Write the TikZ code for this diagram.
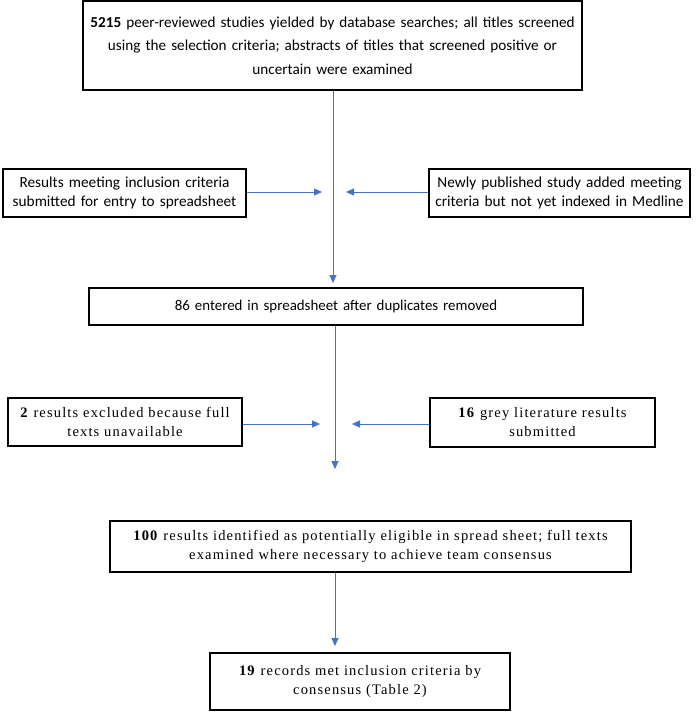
\documentclass[tikz,border=0pt]{standalone}
\usepackage{fontspec}
\setmainfont{Carlito}
\newfontfamily\lowserif[LetterSpace=8]{Liberation Serif}
\usetikzlibrary{arrows.meta}
\definecolor{arrowblue}{HTML}{4472C4}
\begin{document}
\begin{tikzpicture}[x=1pt,y=-1pt,
  box/.style={draw=black,line width=1.1pt,inner sep=0pt,align=center},
  topfont/.style={font=\fontsize{15.2}{23.5}\selectfont},
  sidefont/.style={font=\fontsize{15.3}{19}\selectfont},
  midfont/.style={font=\fontsize{14.9}{19}\selectfont},
  serfont/.style={font=\lowserif\fontsize{14.5}{19}\selectfont},
  flow/.style={draw=arrowblue,line width=0.9pt,-{Triangle[length=8pt,width=7pt]}}]
\useasboundingbox (0,0) rectangle (696,720);
\fill[white] (0,0) rectangle (696,720);

\node[box,topfont,minimum width=499pt,minimum height=89pt,text width=495pt] (top) at (332.5,45.5)
 {\textbf{5215} peer-reviewed studies yielded by database searches; all titles screened\\ using the selection criteria; abstracts of titles that screened positive or\\ uncertain were examined};

\node[box,sidefont,minimum width=243pt,minimum height=48pt,text width=238pt] (l1) at (124.5,193)
 {Results meeting inclusion criteria\\ submitted for entry to spreadsheet};
\node[box,sidefont,minimum width=261pt,minimum height=48pt,text width=258pt] (r1) at (559.5,193)
 {Newly published study added meeting\\ criteria but not yet indexed in Medline};

\node[box,midfont,minimum width=494pt,minimum height=37pt,text width=486pt] (mid) at (336,306.5)
 {86 entered in spreadsheet after duplicates removed};

\node[box,serfont,minimum width=234pt,minimum height=48pt,text width=230pt] (l2) at (125,422)
 {\textbf{2} results excluded because full\\ texts unavailable};
\node[box,serfont,minimum width=225pt,minimum height=49pt,text width=220pt] (r2) at (542.5,422.5)
 {\textbf{16} grey literature results\\ submitted};

\node[box,serfont,minimum width=521pt,minimum height=51pt,text width=518pt] (hund) at (370.5,546.5)
 {\textbf{100} results identified as potentially eligible in spread sheet; full texts\\ examined where necessary to achieve team consensus};

\node[box,serfont,minimum width=300pt,minimum height=57pt,text width=296pt] (nineteen) at (360,681.5)
 {\textbf{19} records met inclusion criteria by\\ consensus (Table 2)};

\coordinate (t1) at (333,283);
\coordinate (t2) at (335,469);
\coordinate (t3) at (335,646);
\coordinate (al1) at (322,192);
\coordinate (ar1) at (346,192);
\coordinate (al2) at (320,424);
\coordinate (ar2) at (352,424);

\draw[flow] (top.south -| t1) -- (t1);
\draw[flow] (mid.south -| t2) -- (t2);
\draw[flow] (hund.south -| t3) -- (t3);
\draw[flow] (l1.east |- al1) -- (al1);
\draw[flow] (r1.west |- ar1) -- (ar1);
\draw[flow] (l2.east |- al2) -- (al2);
\draw[flow] (r2.west |- ar2) -- (ar2);
\end{tikzpicture}
\end{document}
